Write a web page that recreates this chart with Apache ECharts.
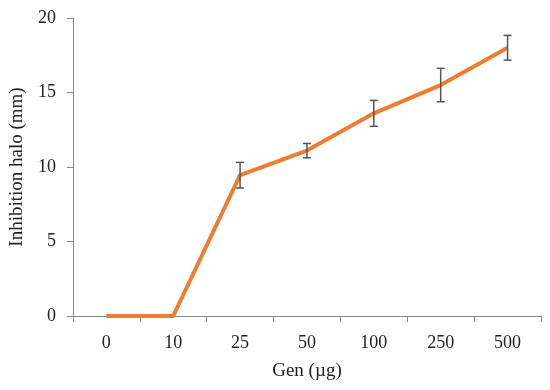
<!DOCTYPE html>
<html><head><meta charset="utf-8">
<script src="https://cdn.jsdelivr.net/npm/echarts@6/dist/echarts.min.js"></script>
<style>html,body{margin:0;padding:0;background:#fff}#c{width:550px;height:390px}</style>
</head><body><div id="c"></div>
<script>
const categories = ['0','10','25','50','100','250','500'];
const halo = [0, 0, 9.45, 11.1, 13.6, 15.5, 18.0];
const errors = [null, null, 0.86, 0.48, 0.87, 1.12, 0.83];
const yTicks = [0, 5, 10, 15, 20];

const font = 'Liberation Serif';
const errData = categories.map((c, i) => errors[i] == null ? null : [i, halo[i] - errors[i], halo[i] + errors[i]]).filter(d => d);

const chart = echarts.init(document.getElementById('c'));
chart.setOption({
  animation: false,
  grid: {left: 70, right: 9, top: 18, bottom: 74},
  xAxis: {
    type: 'category', data: categories, boundaryGap: true,
    name: 'Gen (\u00b5g)', nameLocation: 'middle', nameGap: 46,
    nameTextStyle: {fontFamily: font, fontSize: 19, color: '#222'},
    axisLine: {lineStyle: {color: '#888', width: 1}},
    axisTick: {show: true, length: 6, lineStyle: {color: '#888'}},
    axisLabel: {fontFamily: font, fontSize: 18, color: '#222', margin: 18},
    splitLine: {show: false}
  },
  yAxis: {
    type: 'value', min: yTicks[0], max: yTicks[yTicks.length - 1], interval: 5,
    name: 'Inhibition halo (mm)', nameLocation: 'middle', nameGap: 44,
    nameTextStyle: {fontFamily: font, fontSize: 19, color: '#222'},
    axisLine: {show: true, lineStyle: {color: '#888', width: 1}},
    axisTick: {show: true, length: 6, lineStyle: {color: '#888'}},
    axisLabel: {fontFamily: font, fontSize: 18, color: '#222', margin: 17},
    splitLine: {show: false}
  },
  series: [
    {
      type: 'line', data: halo, symbol: 'none',
      lineStyle: {color: '#ED7D31', width: 4}, z: 2
    },
    {
      type: 'custom', data: errData, z: 3,
      renderItem: function (params, api) {
        const x = api.value(0);
        const lo = api.coord([x, api.value(1)]);
        const hi = api.coord([x, api.value(2)]);
        const w = 4;
        const style = {stroke: '#555', lineWidth: 1.5};
        return {type: 'group', children: [
          {type: 'line', shape: {x1: lo[0], y1: lo[1], x2: hi[0], y2: hi[1]}, style},
          {type: 'line', shape: {x1: lo[0] - w, y1: lo[1], x2: lo[0] + w, y2: lo[1]}, style},
          {type: 'line', shape: {x1: hi[0] - w, y1: hi[1], x2: hi[0] + w, y2: hi[1]}, style}
        ]};
      },
      encode: {x: 0, y: [1, 2]}
    }
  ]
});
</script></body></html>
